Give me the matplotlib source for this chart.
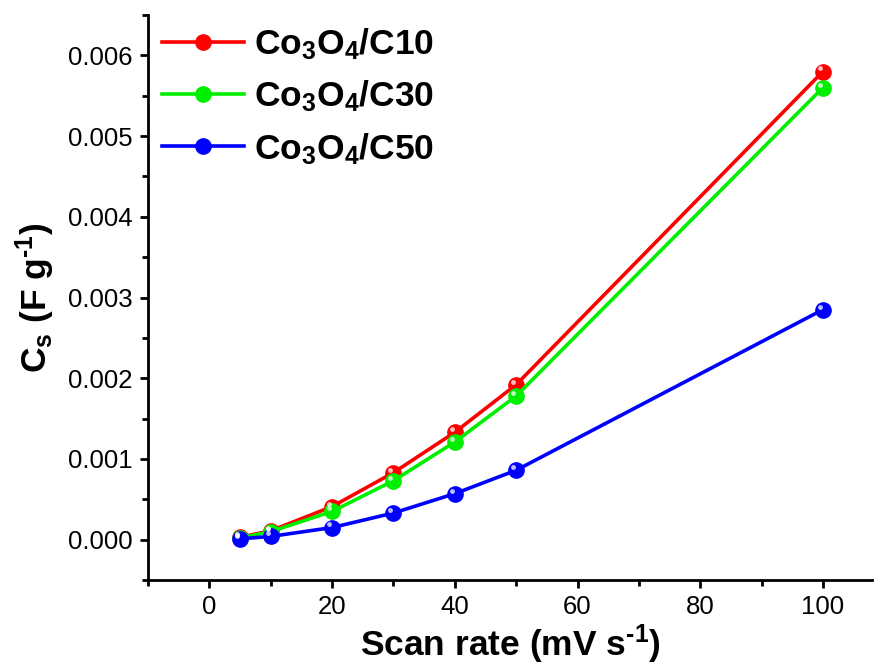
import matplotlib
matplotlib.use('Agg')
from matplotlib import pyplot as plt
from matplotlib.ticker import MultipleLocator, FormatStrFormatter
import matplotlib.transforms as mtransforms

plt.rcParams['font.family'] = ['Liberation Sans', 'DejaVu Sans']
plt.rcParams['mathtext.default'] = 'regular'

scan_rate = [5, 10, 20, 30, 40, 50, 100]
cs_c10 = [0.00003, 0.00011, 0.00041, 0.00083, 0.00133, 0.00192, 0.00580]
cs_c30 = [0.00002, 0.00010, 0.00035, 0.00073, 0.00121, 0.00178, 0.00560]
cs_c50 = [0.00001, 0.00004, 0.00015, 0.00033, 0.00057, 0.00086, 0.00285]
labels = ['Co$_3$O$_4$/C10', 'Co$_3$O$_4$/C30', 'Co$_3$O$_4$/C50']
colors = ['#ff0000', '#00ee00', '#0000ff']

fig = plt.figure(figsize=(8.77, 6.71), dpi=100)
ax = fig.add_axes([0.1688, 0.1356, 0.8255, 0.842])

# highlight offset for the glossy sphere look
shine = mtransforms.offset_copy(ax.transData, fig=fig, x=-2.2, y=2.2, units='points')

handles = []
for ys, col, lab in zip([cs_c10, cs_c30, cs_c50], colors, labels):
    line, = ax.plot(scan_rate, ys, color=col, lw=2.6, marker='o', ms=11,
                    mec=col, mfc=col, label=lab, zorder=3)
    ax.plot(scan_rate, ys, ls='none', marker='o', ms=3.5, mfc='white', mec='none',
            alpha=0.75, transform=shine, zorder=4)
    handles.append(line)

ax.set_xlim(-10, 108)
ax.set_ylim(-0.0005, 0.0065)
ax.xaxis.set_major_locator(MultipleLocator(20))
ax.xaxis.set_minor_locator(MultipleLocator(10))
ax.yaxis.set_major_locator(MultipleLocator(0.001))
ax.yaxis.set_minor_locator(MultipleLocator(0.0005))
ax.yaxis.set_major_formatter(FormatStrFormatter('%.3f'))

for side in ['top', 'right']:
    ax.spines[side].set_visible(False)
for side in ['left', 'bottom']:
    ax.spines[side].set_linewidth(2.0)
ax.tick_params(which='major', direction='out', length=6, width=2, labelsize=18.5, pad=5)
ax.tick_params(which='minor', direction='out', length=4, width=2)

ax.set_xlabel('Scan rate (mV s$^{\u20101}$)', fontsize=25.5, fontweight='bold', labelpad=2)
ax.set_ylabel('C$_s$ (F g$^{\u20101}$)', fontsize=25.5, fontweight='bold', labelpad=8)

leg = ax.legend(handles=handles, loc='upper left', bbox_to_anchor=(-0.01, 1.018),
                frameon=False, handlelength=2.3, handletextpad=0.3,
                labelspacing=0.47, borderaxespad=0.2,
                prop={'size': 25.5, 'weight': 'bold'})

fig.savefig('out.png', dpi=100)
